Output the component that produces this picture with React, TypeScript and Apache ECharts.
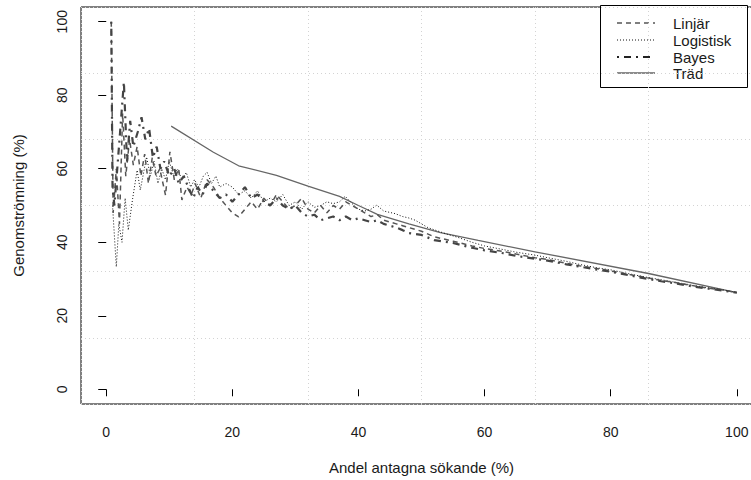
import React, { useEffect, useRef } from "react";
import * as echarts from "echarts";

// ---- data (x = Andel antagna sökande %, y = Genomströmning %) ----
const linjarData: [number, number][] = [
  [0.8, 100], [1.1, 48], [1.6, 60], [2.1, 45], [2.6, 75], [3.1, 58], [3.7, 68], [4.3, 61],
  [4.9, 66], [5.5, 58], [6.1, 64], [6.7, 56], [7.3, 63], [7.9, 58], [8.5, 60], [9.4, 52.8],
  [10.1, 64.6], [10.8, 57], [11.5, 60], [12, 51.5], [12.8, 55], [13.5, 53], [14.1, 56],
  [15, 52], [16, 57], [17, 55], [18, 52], [19, 50], [20, 48], [21, 46.9], [22, 49], [23, 51],
  [24, 49], [25, 52], [26, 50], [27, 53], [28, 51], [29, 49], [30, 50], [31, 52], [32, 49],
  [33, 48], [34, 50], [35, 48], [36, 50], [37, 49], [38, 51], [39, 50], [40, 49], [41, 48],
  [42, 47], [43, 47.5], [44, 46], [45, 45.5], [46, 45], [47, 44.5], [48, 44], [50, 43],
  [52, 41.5], [55, 40.3], [58, 39], [60, 38.3], [63, 37.5], [65, 36.8], [68, 35.8], [70, 35.3],
  [73, 34.3], [75, 33.6], [78, 32.8], [80, 32.2], [83, 31.2], [85, 30.6], [88, 29.6],
  [90, 29.1], [93, 28.2], [95, 27.6], [98, 27], [100, 26.3],
];

const logistiskData: [number, number][] = [
  [1.0, 50], [1.6, 33.3], [2.0, 45], [2.5, 40], [3.0, 52], [3.5, 43.3], [4.2, 52], [4.9, 59.6],
  [5.4, 54.2], [6.4, 63.2], [7, 58], [7.6, 62], [8.2, 56], [8.8, 60], [9.4, 57], [10, 62],
  [10.7, 58], [11.3, 60], [12, 57], [12.7, 59], [13.4, 55], [14, 57], [14.7, 55], [15.4, 58],
  [16, 59], [16.7, 56], [17.4, 58], [18, 55], [19, 56], [20, 55], [21, 53], [22, 54], [23, 52],
  [24, 54], [25, 51], [26, 52], [27, 51], [28, 53], [29, 50], [30, 51], [31, 49], [32, 51],
  [33, 49.5], [34, 50], [35, 51], [36, 50.5], [37, 51], [37.9, 52.5], [39, 50.5], [40, 49],
  [41, 48.5], [42, 49], [42.9, 50.1], [44, 48.5], [45.8, 47.8], [47, 47], [48, 46.6], [49, 46],
  [50, 45], [51, 44], [53.7, 42.4], [56, 41.2], [58, 40], [60, 39], [63, 38], [65, 37.3],
  [68, 36.5], [70, 35.8], [73, 34.8], [75, 34], [78, 33], [80, 32.5], [83, 31.4], [85, 30.7],
  [88, 29.8], [90, 29.2], [93, 28.3], [95, 27.7], [98, 27], [100, 26.3],
];

const bayesData: [number, number][] = [
  [0.8, 100], [1.0, 55], [1.3, 50], [2.2, 70], [2.8, 83.6], [3.3, 62], [3.8, 73], [4.3, 66],
  [5, 70], [5.6, 74], [6.2, 68], [6.8, 71], [7.4, 63], [8, 66], [8.6, 60], [9.2, 62], [10, 58],
  [10.8, 60], [11.5, 56], [12.3, 58], [13, 55], [13.8, 52], [14.5, 55], [15.3, 53], [16, 56],
  [17, 54], [18, 52], [19, 53], [20, 51], [21, 53], [22, 55], [23, 52], [24, 53], [25, 51],
  [26, 50], [27, 52], [28, 50], [29, 49], [30, 50], [31, 48], [32, 47], [33, 47.5], [34, 46],
  [35, 46.5], [36, 47], [37, 46], [38, 47], [39, 46], [40, 46.5], [41, 46], [42, 45.5],
  [43, 46], [44, 45], [45, 44.5], [46, 44], [47, 43.3], [48, 42.5], [50, 42], [52, 40.6],
  [55, 39.8], [58, 38.5], [60, 37.8], [63, 37], [65, 36.3], [68, 35.5], [70, 35], [73, 34],
  [75, 33.4], [78, 32.5], [80, 32], [83, 31], [85, 30.3], [88, 29.4], [90, 28.9], [93, 28],
  [95, 27.5], [98, 26.8], [100, 26.3],
];

const tradData: [number, number][] = [
  [10.3, 71.6], [17, 64.5], [21, 60.8], [27, 58.2], [32, 55.3], [37, 52.5], [40, 50],
  [43, 47.6], [48, 45], [53, 42.6], [59, 40.5], [68, 37.4], [86, 31.5], [100, 26.3],
];

const xTicks = [0, 20, 40, 60, 80, 100];
const yTicks = [0, 20, 40, 60, 80, 100];
const seriesNames = ["Linjär", "Logistisk", "Bayes", "Träd"];

const FONT = "Liberation Sans, Arial, sans-serif";
const TXT = "#1a1a1a";

export default function App() {
  const ref = useRef<HTMLDivElement>(null);
  useEffect(() => {
    if (!ref.current) return;
    const chart = echarts.init(ref.current, null, { renderer: "svg" });
    const axisCommon = { min: -4, max: 104 };
    const legendRows = [
      { name: seriesNames[0], y: 23, color: "#555", width: 1.5, dash: [5, 4] },
      { name: seriesNames[1], y: 40, color: "#111", width: 1, dash: [1, 2] },
      { name: seriesNames[2], y: 57, color: "#222", width: 2.2, dash: [2, 5, 7, 5] },
      { name: seriesNames[3], y: 73, color: "#666", width: 1.3, dash: null },
    ];
    chart.setOption({
      animation: false,
      backgroundColor: "#fff",
      textStyle: { fontFamily: FONT },
      grid: {
        left: 81,
        top: 7,
        width: 681,
        height: 397,
        show: true,
        borderColor: "#000",
        borderWidth: 1,
        backgroundColor: "transparent",
        outerBoundsMode: "none",
        containLabel: false,
      },
      xAxis: [
        {
          type: "value",
          ...axisCommon,
          interval: 18,
          position: "bottom",
          axisLine: { show: false },
          axisTick: { show: false },
          axisLabel: { show: false },
          splitLine: { show: true, lineStyle: { color: "#d3d3d3", type: [1, 3], width: 1 } },
        },
        {
          type: "value",
          ...axisCommon,
          position: "bottom",
          axisLine: { show: false },
          axisTick: { show: true, length: 7, customValues: xTicks, lineStyle: { color: "#000" } },
          axisLabel: {
            show: true,
            customValues: xTicks,
            margin: 21,
            fontSize: 14,
            color: TXT,
            fontFamily: FONT,
          },
          splitLine: { show: false },
          name: "Andel antagna sökande (%)",
          nameLocation: "middle",
          nameGap: 56,
          nameTextStyle: { fontSize: 15, color: TXT, fontFamily: FONT },
        },
      ],
      yAxis: [
        {
          type: "value",
          ...axisCommon,
          interval: 18,
          position: "left",
          axisLine: { show: false },
          axisTick: { show: false },
          axisLabel: { show: false },
          splitLine: { show: true, lineStyle: { color: "#d3d3d3", type: [1, 3], width: 1 } },
        },
        {
          type: "value",
          ...axisCommon,
          position: "left",
          axisLine: { show: false },
          axisTick: { show: true, length: 8, customValues: yTicks, lineStyle: { color: "#000" } },
          axisLabel: {
            show: true,
            customValues: yTicks,
            rotate: 90,
            margin: 12,
            fontSize: 14,
            color: TXT,
            fontFamily: FONT,
          },
          splitLine: { show: false },
          name: "Genomströmning (%)",
          nameLocation: "middle",
          nameGap: 55,
          nameTextStyle: { fontSize: 15, color: TXT, fontFamily: FONT },
        },
      ],
      series: [
        {
          name: seriesNames[3],
          type: "line",
          data: tradData,
          symbol: "none",
          z: 2,
          lineStyle: { color: "#666", width: 1.3, type: "solid" },
        },
        {
          name: seriesNames[1],
          type: "line",
          data: logistiskData,
          symbol: "none",
          z: 3,
          lineStyle: { color: "#111", width: 1, type: [1, 2] },
        },
        {
          name: seriesNames[0],
          type: "line",
          data: linjarData,
          symbol: "none",
          z: 4,
          lineStyle: { color: "#555", width: 1.5, type: [5, 4] },
        },
        {
          name: seriesNames[2],
          type: "line",
          data: bayesData,
          symbol: "none",
          z: 5,
          lineStyle: { color: "#444", width: 2.2, type: [2, 5, 7, 5] },
        },
      ],
      graphic: [
        {
          type: "group",
          z: 100,
          children: [
            {
              type: "rect",
              shape: { x: 600.5, y: 5.5, width: 147, height: 82 },
              style: { fill: "#fff", stroke: "#000", lineWidth: 1 },
            },
            ...legendRows.flatMap((r) => [
              {
                type: "line",
                shape: { x1: 617, y1: r.y, x2: 655, y2: r.y },
                style: {
                  stroke: r.color,
                  lineWidth: r.width,
                  lineDash: r.dash || undefined,
                },
              },
              {
                type: "text",
                x: 673,
                y: r.y,
                style: {
                  text: r.name,
                  fill: TXT,
                  fontSize: 15,
                  fontFamily: FONT,
                  verticalAlign: "middle",
                  align: "left",
                },
              },
            ]),
          ],
        },
      ],
    });
    return () => chart.dispose();
  }, []);
  return (
    <div
      ref={ref}
      style={{ position: "absolute", left: 0, top: 0, width: 751, height: 480 }}
    />
  );
}
